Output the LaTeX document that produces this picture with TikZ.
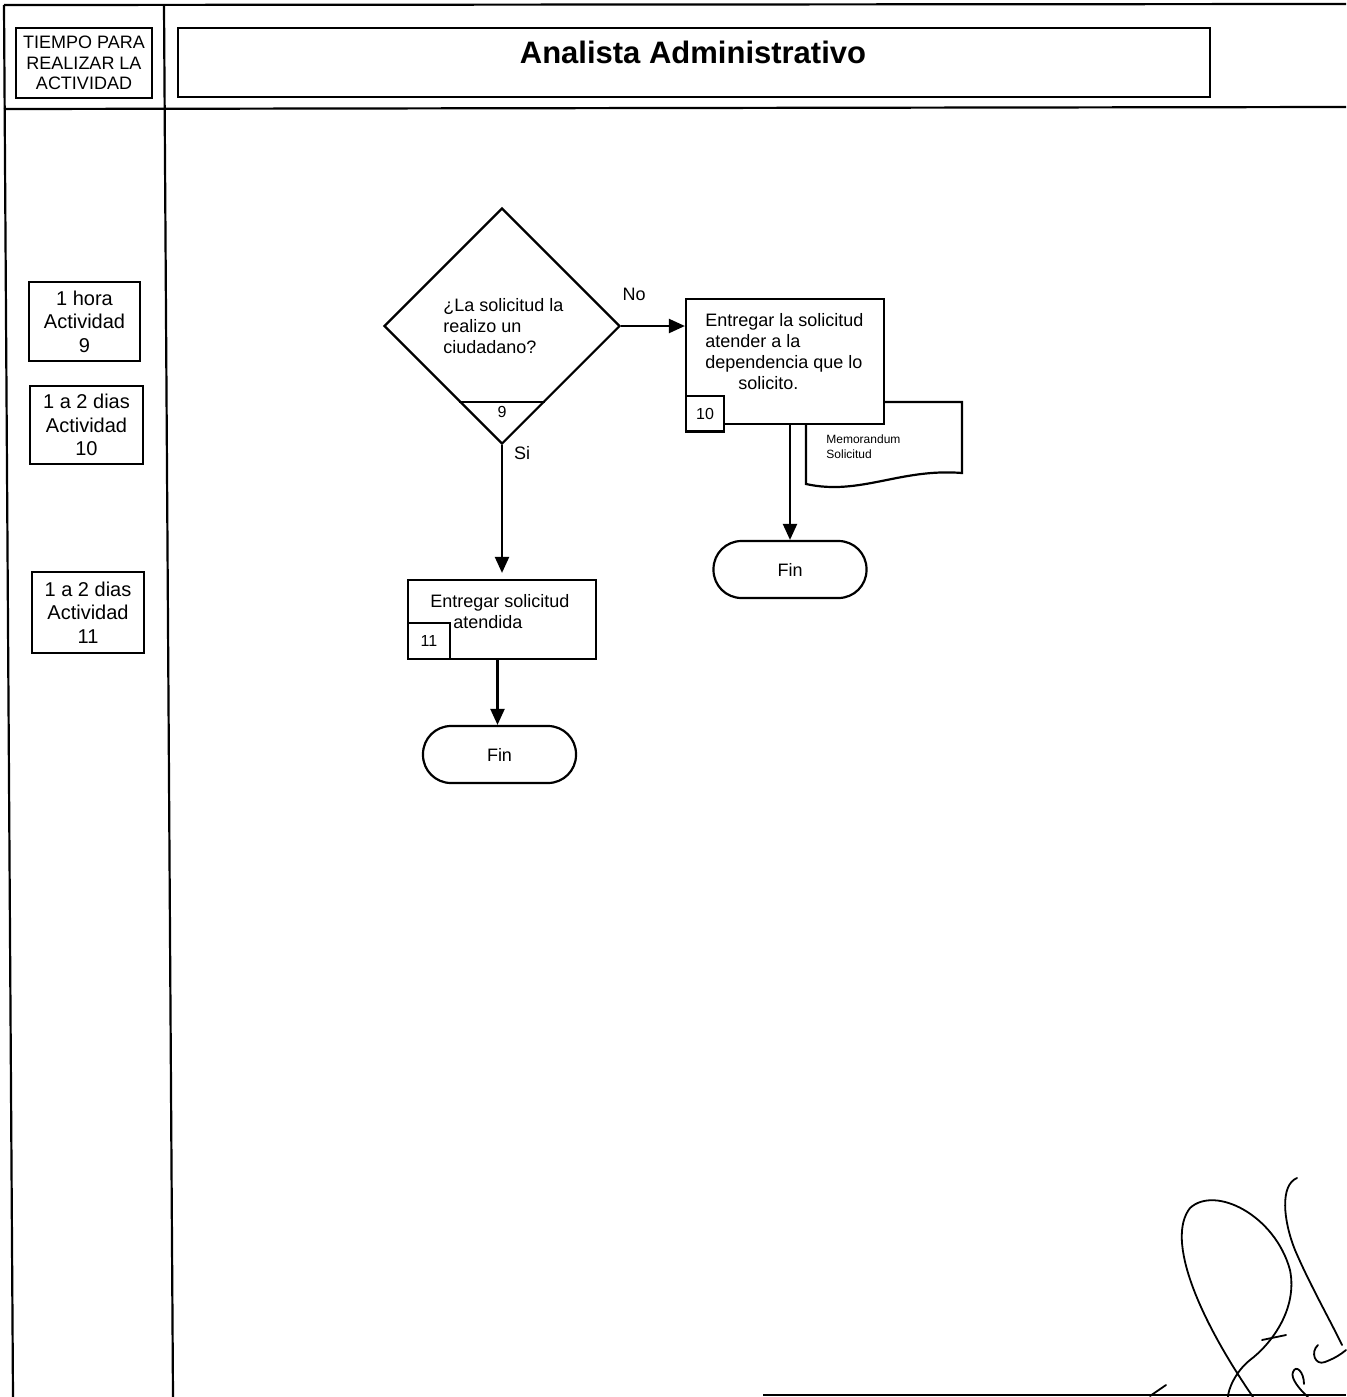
\documentclass[tikz,border=0pt]{standalone}
\usepackage{fontspec}
\setmainfont{Liberation Sans}
\usetikzlibrary{arrows.meta,shapes.geometric,calc}
\begin{document}
\begin{tikzpicture}[x=0.5pt,y=-0.5pt,
  ln/.style={line width=1.1pt},
  box/.style={draw, line width=1.1pt, fill=white, inner sep=0pt},
  tbox/.style={box, align=center, font=\fontsize{10}{11.75}\selectfont},
  txt/.style={inner sep=0pt, align=left, font=\fontsize{9}{10.5}\selectfont},
  lbl/.style={inner sep=0pt, font=\fontsize{9}{10.5}\selectfont},
  arr/.style={line width=1.1pt, -{Triangle[length=8pt,width=7pt]}},
  term/.style={draw, line width=1.1pt, rounded corners=14pt, minimum width=76.5pt, minimum height=28.5pt, inner sep=0pt, font=\fontsize{9}{10.5}\selectfont},
  numbox/.style={box, font=\fontsize{8}{9}\selectfont},
  sig/.style={line width=0.9pt, line cap=round}
]
\useasboundingbox (0,0) rectangle (1346,1397);

% frame
\draw[ln] (4,5) -- (1346,4);
\draw[ln] (4,109) -- (1346,107);
\draw[ln] (4,5) -- (13,1397);
\draw[ln] (164,5) -- (173,1397);
\draw[ln] (763,1395) -- (1346,1395);

% header
\node[box, minimum width=68pt, minimum height=35pt, align=center, font=\fontsize{9}{10.25}\selectfont] (hdr) at (84,63) {TIEMPO PARA\\REALIZAR LA\\ACTIVIDAD};
\node[box, minimum width=516pt, minimum height=34.5pt] (tb) at (694,62.5) {};
\node[inner sep=0pt, font=\fontsize{15.5}{18}\selectfont\bfseries] (title) at (693,52) {Analista Administrativo};

% time boxes
\node[tbox, minimum width=55.5pt, minimum height=39.5pt] (t9) at (84.5,321.5) {1 hora\\Actividad\\9};
\node[tbox, minimum width=56.5pt, minimum height=39pt] (t10) at (86.5,425) {1 a 2 dias\\Actividad\\10};
\node[tbox, minimum width=56pt, minimum height=40.5pt] (t11) at (88,612.5) {1 a 2 dias\\Actividad\\11};

% decision
\node[draw, diamond, line width=1.1pt, minimum width=118pt, minimum height=118pt, inner sep=0pt] (d) at (502,326) {};
\draw[line width=0.8pt] ($(d.south)+(-43,-43)$) -- ($(d.south)+(43,-43)$);
\node[inner sep=0pt, font=\fontsize{8}{9}\selectfont] (n9) at ($(d.south)+(0,-33)$) {9};
\node[txt, anchor=north west] (dq) at (443,298) {¿La solicitud la\\realizo un\\ciudadano?};
\node[lbl] (no) at (634,294) {No};
\node[lbl] (si) at (522,453) {Si};

% document (behind box 10)
\draw[ln, fill=white] (806,402) -- (962,402) -- (962,473)
  .. controls (900,468) and (860,496) .. (806,484) -- cycle;
\node[inner sep=0pt, align=left, font=\fontsize{6}{7.5}\selectfont] (doc) at (826,447) [anchor=west] {Memorandum\\Solicitud};

% box 10
\node[box, minimum width=99pt, minimum height=62.5pt] (b10) at (785,361.5) {};
\node[txt, anchor=north west] (b10t) at (705,313) {Entregar la solicitud\\atender a la\\dependencia que lo\\\hspace*{16.5pt}solicito.};
\node[numbox, minimum width=19pt, minimum height=18pt, anchor=north west] (n10) at ($(b10.south west)+(0,-30)$) {10};
\draw[ln] ($(b10.south west)+(0,6)$) -- ($(b10.south west)+(38,6)$);

% box 11
\node[box, minimum width=94pt, minimum height=39.5pt] (b11) at (502,619.5) {};
\node[txt, anchor=north west] (b11t) at (430,594) {Entregar solicitud\\\hspace*{11.5pt}atendida};
\node[numbox, minimum width=21pt, minimum height=18pt, anchor=south west] (n11) at (b11.south west) {11};

% terminals
\node[term] (fin1) at (790,569.5) {Fin};
\node[term] (fin2) at (499.5,754.5) {Fin};

% connectors
\draw[arr] (d.east) -- (d.east -| b10.west);
\draw[arr] (d.south) -- ($(d.south |- b11.north)+(0,-6)$);
\draw[arr] (fin1.north |- b10.south) -- (fin1.north);
\draw[arr] ($(fin2.north |- b11.south)+(-2,0)$) -- ($(fin2.north)+(-2,0)$);

% signature
\draw[sig] (1253,1397) .. controls (1200,1320) and (1165,1240) .. (1190,1208)
  .. controls (1215,1185) and (1275,1215) .. (1290,1270)
  .. controls (1298,1310) and (1270,1345) .. (1250,1360)
  .. controls (1235,1372) and (1228,1390) .. (1228,1397);
\draw[sig] (1262,1340) -- (1286,1335);
\draw[sig] (1297,1178) .. controls (1280,1185) and (1283,1220) .. (1295,1250)
  .. controls (1310,1285) and (1330,1320) .. (1342,1345);
\draw[sig] (1318,1345) .. controls (1310,1352) and (1315,1366) .. (1325,1362)
  .. controls (1335,1358) and (1340,1355) .. (1346,1350);
\draw[sig] (1308,1397) .. controls (1300,1390) and (1290,1378) .. (1293,1372)
  .. controls (1296,1364) and (1304,1372) .. (1304,1384);
\draw[sig] (1150,1396) -- (1166,1385);
\end{tikzpicture}
\end{document}
